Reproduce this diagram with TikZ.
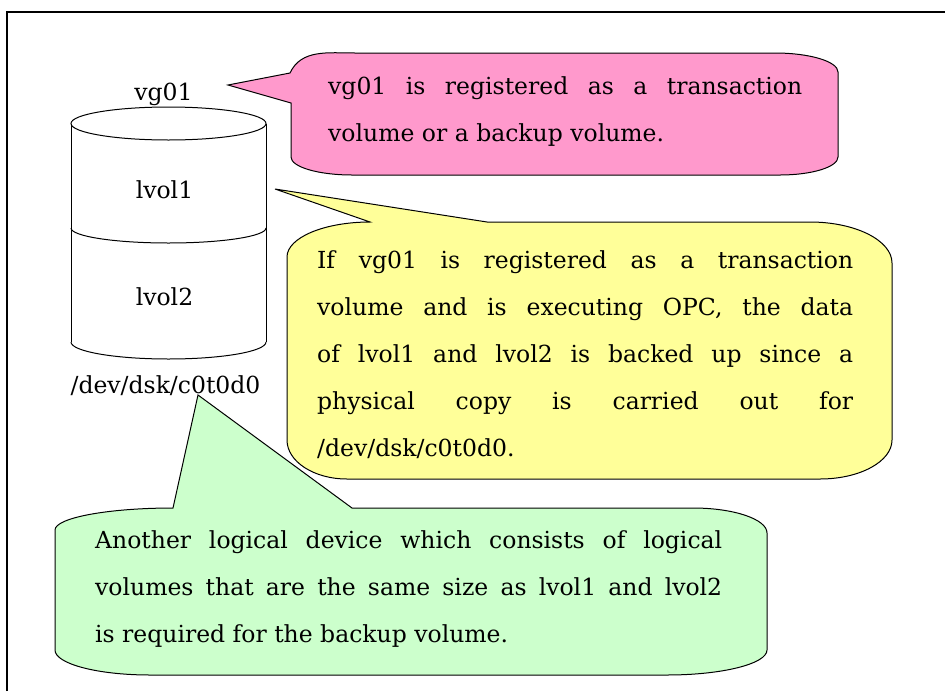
\documentclass[tikz,border=0pt]{standalone}
\usepackage{fontspec}
\setmainfont{DejaVu Serif}
\definecolor{notepink}{RGB}{255,153,204}
\definecolor{noteyellow}{RGB}{255,255,153}
\definecolor{notegreen}{RGB}{204,255,204}
\tolerance 10000
\hyphenpenalty 10000

\begin{document}
\begin{tikzpicture}[x=1pt,y=1pt]
\tikzstyle{every node}+=[inner sep=0pt, font=\fontsize{23.5}{47}\selectfont]
\tikzstyle{note}=[anchor=base west, align=justify]
\tikzstyle{bubble}=[draw=black, line width=1pt]
\useasboundingbox (0,0) rectangle (945,-691);
\draw [black, line width=1.5pt] (7,-691) -- (7,-12) -- (945,-12);
\draw [black, line width=1pt] (168.5,-123.5) ellipse (97.5pt and 16.5pt);
\draw [black, line width=1pt] (71,-123.5) -- (71,-342);
\draw [black, line width=1pt] (266,-123.5) -- (266,-342);
\draw [black, line width=1pt] (71,-228) arc (180:360:97.5pt and 15pt);
\draw [black, line width=1pt] (71,-342) arc (180:360:97.5pt and 17pt);
\coordinate (pinktip) at (228,-85);
\coordinate (yellowtip) at (275,-189);
\coordinate (greentip) at (198,-395);
\filldraw [bubble, fill=notepink] (pinktip) -- (290,-73) to[out=65,in=180] (355,-53) -- (775,-53) arc (90:0:63pt and 19pt) -- (838,-157) arc (0:-90:58pt and 18pt) -- (352,-175) arc (270:180:61pt and 18pt) -- (291,-103) -- cycle;
\filldraw [bubble, fill=noteyellow] (yellowtip) -- (487,-222) -- (810,-222) arc (90:0:82pt and 41pt) -- (892,-440) arc (0:-90:72pt and 39pt) -- (347,-479) arc (270:180:60pt and 39pt) -- (287,-257) arc (180:90:83pt and 35pt) -- cycle;
\filldraw [bubble, fill=notegreen] (greentip) -- (352,-508) -- (693,-508) arc (90:0:74pt and 25pt) -- (767,-650) arc (0:-90:100pt and 25pt) -- (150,-675) arc (270:180:95pt and 25pt) -- (55,-530) arc (180:90:118pt and 22pt) -- cycle;
\node (vgname) [anchor=base] at (163.5,-100) {vg01};
\node (lvolone) [anchor=base] at (164.5,-198) {lvol1};
\node (lvoltwo) [anchor=base] at (164.5,-305) {lvol2};
\node (devname) [anchor=base] at (165.5,-393) {/dev/dsk/c0t0d0};
\node (pinktext) [note, text width=474pt] at (328,-94) {vg01 is registered as a transaction\linebreak volume or a backup volume.};
\node (yellowtext) [note, text width=536pt] at (317,-268) {If vg01 is registered as a transaction\linebreak volume and is executing OPC, the data\linebreak of lvol1 and lvol2 is backed up since a\linebreak physical copy is carried out for\linebreak /dev/dsk/c0t0d0.};
\node (greentext) [note, text width=627pt] at (95,-548) {Another logical device which consists of logical\linebreak volumes that are the same size as lvol1 and lvol2\linebreak is required for the backup volume.};
\end{tikzpicture}
\end{document}
